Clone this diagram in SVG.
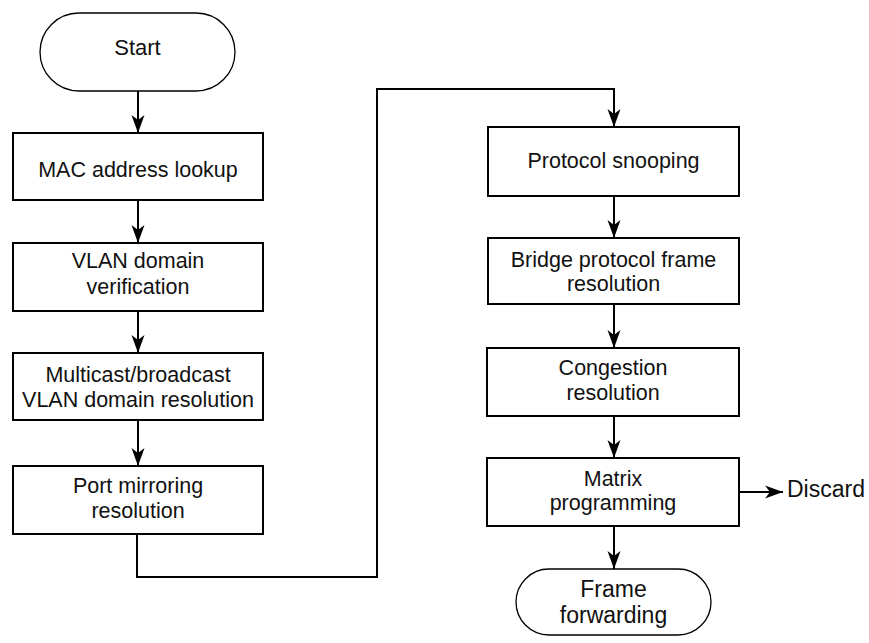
<svg xmlns="http://www.w3.org/2000/svg" width="869" height="643" viewBox="0 0 869 643">
<style>
.box{fill:#fff;stroke:#000;stroke-width:2}
.term{fill:#fff;stroke:#000;stroke-width:1.3}
.t{font-family:"Liberation Sans",Arial,sans-serif;font-size:21.5px;fill:#111;text-anchor:middle}
.tl{font-family:"Liberation Sans",Arial,sans-serif;font-size:23px;fill:#111}
.c{fill:none;stroke:#000;stroke-width:2}
</style>
<defs>
<marker id="ah" viewBox="-19 -7 20 14" refX="0" refY="0" markerWidth="20" markerHeight="14" markerUnits="userSpaceOnUse" orient="auto">
<path d="M0,0 L-18,-6.5 L-13,0 L-18,6.5 Z" fill="#000"/>
</marker>
</defs>
<g id="connectors">
<path class="c" d="M138,91 V133" marker-end="url(#ah)"/>
<path class="c" d="M138,200 V243" marker-end="url(#ah)"/>
<path class="c" d="M138,311 V353" marker-end="url(#ah)"/>
<path class="c" d="M138,420 V466" marker-end="url(#ah)"/>
<path class="c" d="M137,534 V577 H377 V89 H614 V127" marker-end="url(#ah)"/>
<path class="c" d="M614,196 V238" marker-end="url(#ah)"/>
<path class="c" d="M614,304 V348" marker-end="url(#ah)"/>
<path class="c" d="M614,416 V458" marker-end="url(#ah)"/>
<path class="c" d="M614,526 V569" marker-end="url(#ah)"/>
<path class="c" d="M739,492 H783" marker-end="url(#ah)"/>
</g>
<g id="start">
<rect class="term" x="40" y="13" width="195" height="78" rx="39" ry="39"/>
<text class="tl" x="137.5" y="55" text-anchor="middle" style="font-size:22px">Start</text>
</g>
<g id="mac">
<rect class="box" x="13" y="133" width="250" height="67"/>
<text class="t" x="138" y="177">MAC address lookup</text>
</g>
<g id="vlan">
<rect class="box" x="13" y="243" width="250" height="68"/>
<text class="t" x="138" y="268">VLAN domain</text>
<text class="t" x="138" y="294">verification</text>
</g>
<g id="multicast">
<rect class="box" x="13" y="353" width="250" height="67"/>
<text class="t" x="138" y="382">Multicast/broadcast</text>
<text class="t" x="138" y="407">VLAN domain resolution</text>
</g>
<g id="mirror">
<rect class="box" x="13" y="466" width="250" height="68"/>
<text class="t" x="138" y="493">Port mirroring</text>
<text class="t" x="138" y="518">resolution</text>
</g>
<g id="snoop">
<rect class="box" x="488" y="127" width="251" height="69"/>
<text class="t" x="613.5" y="168">Protocol snooping</text>
</g>
<g id="bridge">
<rect class="box" x="488" y="238" width="251" height="66"/>
<text class="t" x="613.5" y="267">Bridge protocol frame</text>
<text class="t" x="613.5" y="291">resolution</text>
</g>
<g id="congestion">
<rect class="box" x="487" y="348" width="252" height="68"/>
<text class="t" x="613" y="375">Congestion</text>
<text class="t" x="613" y="400">resolution</text>
</g>
<g id="matrix">
<rect class="box" x="487" y="458" width="252" height="68"/>
<text class="t" x="613" y="486">Matrix</text>
<text class="t" x="613" y="510">programming</text>
</g>
<g id="discard">
<text class="tl" x="787" y="497">Discard</text>
</g>
<g id="frame">
<rect class="term" x="516" y="569" width="195" height="66" rx="33" ry="33"/>
<text class="tl" x="613.5" y="597" text-anchor="middle">Frame</text>
<text class="tl" x="613.5" y="623" text-anchor="middle">forwarding</text>
</g>
</svg>
